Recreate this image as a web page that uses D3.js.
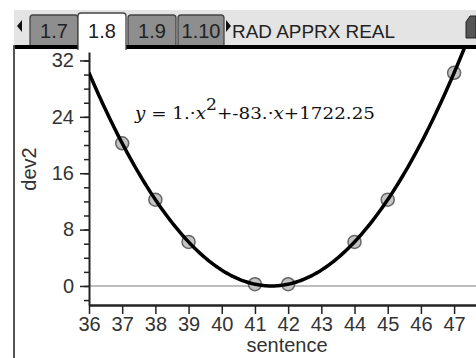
<!DOCTYPE html>
<html>
<head>
<meta charset="utf-8">
<script src="https://cdn.jsdelivr.net/npm/d3@7"></script>
<style>
  body { margin: 0; background: #fff; }
  svg { display: block; font-family: "Liberation Sans", Arial, sans-serif; }
</style>
</head>
<body>
<div id="chart"></div>
<script>
// scatter data (sentence vs dev2)
var sentence = [37, 38, 39, 41, 42, 44, 45, 47];
var dev2 = [20.25, 12.25, 6.25, 0.25, 0.25, 6.25, 12.25, 30.25];
// regression coefficients a, b, c  (y = a x^2 + b x + c)
var coef = [1, -83, 1722.25];
var yTicks = [0, 8, 16, 24, 32];
var xTicks = [36, 37, 38, 39, 40, 41, 42, 43, 44, 45, 46, 47];
var tabs = ["1.7", "1.8", "1.9", "1.10"];

function init(){
    var w = 476, h = 358;

    var svg = d3.select("#chart").append("svg")
        .attr("width", w)
        .attr("height", h);

    // ---- top bar ----
    svg.append("rect").attr("x", 14).attr("y", 10).attr("width", w - 14).attr("height", 36)
        .attr("fill", "#e4e4e4");
    svg.append("rect").attr("x", 14).attr("y", 45).attr("width", w - 14).attr("height", 4)
        .attr("fill", "#000");
    // left border
    svg.append("rect").attr("x", 13).attr("y", 45).attr("width", 2).attr("height", h - 45)
        .attr("fill", "#555");

    var tabX = [30, 78, 128, 178];
    var tabW = [48, 48, 48, 46];
    tabs.forEach(function(t, i){
        var active = i == 1;
        var x0 = tabX[i], x1 = tabX[i] + tabW[i];
        var top = active ? 13 : 15, bot = active ? 50 : 45;
        svg.append("path")
            .attr("d", "M" + x0 + "," + bot + "V" + (top + 3) + "Q" + x0 + "," + top + " " + (x0 + 3) + "," + top +
                "H" + (x1 - 3) + "Q" + x1 + "," + top + " " + x1 + "," + (top + 3) + "V" + bot)
            .attr("fill", active ? "#fff" : "#8e8e8e")
            .attr("stroke", "#444")
            .attr("stroke-width", 1.3);
        svg.append("text")
            .attr("x", (x0 + x1) / 2).attr("y", 38)
            .attr("text-anchor", "middle")
            .attr("font-size", 20)
            .attr("fill", "#222")
            .text(t);
    });
    svg.append("path").attr("d", "M17,26L22,20V32Z").attr("fill", "#111");
    svg.append("path").attr("d", "M226,20L231,26L226,32Z").attr("fill", "#111");
    svg.append("text").attr("x", 232).attr("y", 38).attr("font-size", 19).attr("fill", "#222")
        .attr("textLength", 163).attr("lengthAdjust", "spacingAndGlyphs")
        .text("RAD APPRX REAL");
    svg.append("path").attr("d", "M466,22L470,16L476,16V38H466Z").attr("fill", "#555").attr("stroke", "#222");

    // ---- scales ----
    var x = d3.scaleLinear().domain([36, 47.66]).range([89, 476]);
    var y = d3.scaleLinear().domain([-2.7, 33.2]).range([305, 52]);

    svg.append("defs").append("clipPath").attr("id", "plotClip")
        .append("rect").attr("x", 89).attr("y", 49).attr("width", w - 89).attr("height", 256);

    // zero line
    svg.append("line")
        .attr("x1", x(36)).attr("x2", w)
        .attr("y1", y(0)).attr("y2", y(0))
        .attr("stroke", "#a8a8a8").attr("stroke-width", 1.5);

    // minor y ticks
    svg.append("g").attr("transform", "translate(89,0)")
        .call(d3.axisLeft(y).tickValues(d3.range(-2, 33, 2)).tickSize(5).tickFormat(""))
        .call(function(g){ g.select(".domain").remove(); })
        .selectAll("line").attr("stroke", "#222").attr("stroke-width", 1.5);

    var yAxis = svg.append("g").attr("transform", "translate(89,0)")
        .call(d3.axisLeft(y).tickValues(yTicks).tickSize(9).tickSizeOuter(0).tickPadding(6));
    yAxis.select(".domain").attr("stroke", "#222").attr("stroke-width", 2);
    yAxis.selectAll(".tick line").attr("stroke", "#222").attr("stroke-width", 1.5);
    yAxis.selectAll("text").attr("font-size", 20).attr("fill", "#333")
        .attr("font-family", "Liberation Sans, Arial, sans-serif");

    var xAxis = svg.append("g").attr("transform", "translate(0,305)")
        .call(d3.axisBottom(x).tickValues(xTicks).tickSize(9).tickSizeOuter(0).tickPadding(3));
    xAxis.select(".domain").attr("stroke", "#222").attr("stroke-width", 2.5);
    xAxis.selectAll(".tick line").attr("stroke", "#222").attr("stroke-width", 1.5);
    xAxis.selectAll("text").attr("font-size", 20).attr("fill", "#333")
        .attr("font-family", "Liberation Sans, Arial, sans-serif");

    // axis titles
    svg.append("text")
        .attr("transform", "translate(36,169) rotate(-90)")
        .attr("text-anchor", "middle")
        .attr("font-size", 20).attr("fill", "#333")
        .text("dev2");
    svg.append("text")
        .attr("x", 287).attr("y", 352)
        .attr("text-anchor", "middle")
        .attr("font-size", 20).attr("fill", "#333")
        .text("sentence");

    var plot = svg.append("g").attr("clip-path", "url(#plotClip)");

    // points
    var pts = sentence.map(function(s, i){ return {x: s, y: dev2[i]}; });
    plot.selectAll("circle")
        .data(pts)
        .enter()
        .append("circle")
        .attr("cx", function(d){ return x(d.x); })
        .attr("cy", function(d){ return y(d.y); })
        .attr("r", 6.5)
        .attr("fill", "#c4c4c4")
        .attr("stroke", "#666")
        .attr("stroke-width", 1.5);

    // regression curve
    var xs = d3.range(36, 47.8, 0.05);
    var line = d3.line()
        .x(function(d){ return x(d); })
        .y(function(d){ return y(coef[0] * d * d + coef[1] * d + coef[2]); });
    plot.append("path")
        .datum(xs)
        .attr("d", line)
        .attr("fill", "none")
        .attr("stroke", "#000")
        .attr("stroke-width", 3.5);

    // equation
    var eq = svg.append("text")
        .attr("x", 135).attr("y", 119)
        .attr("font-family", "DejaVu Serif, serif")
        .attr("font-size", 17)
        .attr("fill", "#111");
    eq.append("tspan").attr("font-style", "italic").text("y");
    eq.append("tspan").text(" = 1.·");
    eq.append("tspan").attr("font-style", "italic").text("x");
    eq.append("tspan").attr("dy", -9).attr("font-size", 16).text("2");
    eq.append("tspan").attr("dy", 9).text("+-83.·");
    eq.append("tspan").attr("font-style", "italic").text("x");
    eq.append("tspan").text("+1722.25");
    var len = eq.node().getComputedTextLength();
    if (Math.abs(len - 240) > 4) eq.attr("textLength", 240).attr("lengthAdjust", "spacingAndGlyphs");
}
window.onload = init;
</script>
</body>
</html>
